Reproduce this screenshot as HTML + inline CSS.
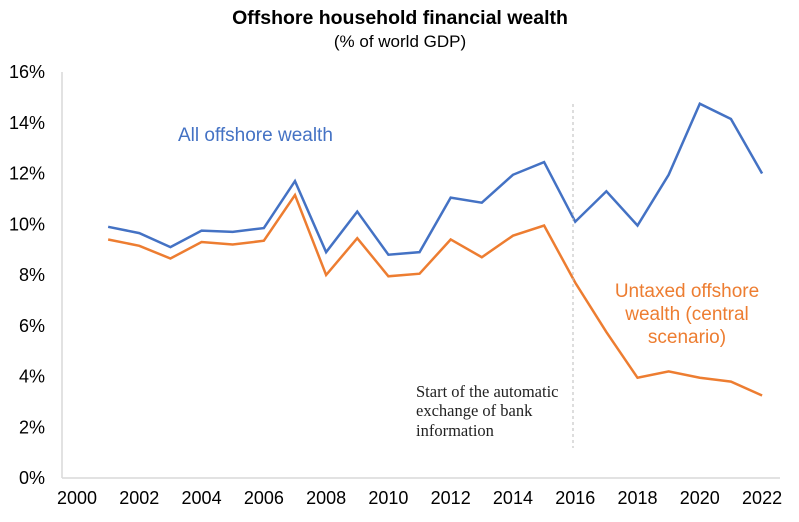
<!DOCTYPE html>
<html><head><meta charset="utf-8"><style>
body{margin:0;background:#fff;}
svg{display:block;font-family:"Liberation Sans",sans-serif;}
</style></head><body>
<svg id="chart" width="799" height="522">
<text x="400" y="24" text-anchor="middle" font-size="19.5" font-weight="bold" fill="#000">Offshore household financial wealth</text>
<text x="400" y="47" text-anchor="middle" font-size="17" fill="#000">(% of world GDP)</text>
<g id="axes"></g>
<g id="series"></g>
<line x1="573" y1="104" x2="573" y2="448" stroke="#bbb" stroke-width="1" stroke-dasharray="3,3"/>
<text font-family="Liberation Serif,serif" font-size="16.5" fill="#222"><tspan x="416" y="397">Start of the automatic</tspan><tspan x="416" y="416">exchange of bank</tspan><tspan x="416" y="436">information</tspan></text>
<text x="178" y="141" font-size="19" fill="#4472c4">All offshore wealth</text>
<text font-size="19" fill="#ed7d31" text-anchor="middle"><tspan x="687" y="297">Untaxed offshore</tspan><tspan x="687" y="320">wealth (central</tspan><tspan x="687" y="343">scenario)</tspan></text>
</svg>
<script>
const years=[2001,2002,2003,2004,2005,2006,2007,2008,2009,2010,2011,2012,2013,2014,2015,2016,2017,2018,2019,2020,2021,2022];
const allOffshore=[9.9,9.65,9.1,9.75,9.7,9.85,11.7,8.9,10.5,8.8,8.9,11.05,10.85,11.95,12.45,10.1,11.3,9.95,11.95,14.75,14.15,12.0];
const untaxed=[9.4,9.15,8.65,9.3,9.2,9.35,11.15,8.0,9.45,7.95,8.05,9.4,8.7,9.55,9.95,7.7,5.75,3.95,4.2,3.95,3.8,3.25];
const yTicks=[0,2,4,6,8,10,12,14,16];
const xTicks=[2000,2002,2004,2006,2008,2010,2012,2014,2016,2018,2020,2022];
const NS="http://www.w3.org/2000/svg";
const X=y=>77+(y-2000)*31.14;
const Y=v=>478-v*(406/16);
const axes=document.getElementById('axes'),ser=document.getElementById('series');
function mk(t,a,p){const e=document.createElementNS(NS,t);for(const k in a)e.setAttribute(k,a[k]);p.appendChild(e);return e;}
let yl=mk('line',{x1:62,y1:72,x2:62,y2:478,stroke:'#d9d9d9','stroke-width':1.5},axes);


let xl=mk('line',{x1:62,y1:478,x2:780,y2:478,stroke:'#d9d9d9','stroke-width':1.5},axes);


yTicks.forEach(v=>{const t=mk('text',{x:45,y:Y(v)+6,'text-anchor':'end','font-size':18,fill:'#000'},axes);t.textContent=v+'%';

});
xTicks.forEach(v=>{const t=mk('text',{x:X(v),y:504,'text-anchor':'middle','font-size':18,fill:'#000'},axes);t.textContent=v;

});
function line(d,c,n){const p=mk('polyline',{points:d.map((v,i)=>X(years[i])+','+Y(v)).join(' '),fill:'none',stroke:c,'stroke-width':2.5,'stroke-linejoin':'miter'},ser);

}
line(allOffshore,'#4472c4','all-offshore-line');
line(untaxed,'#ed7d31','untaxed-offshore-line');
</script>
</body></html>
